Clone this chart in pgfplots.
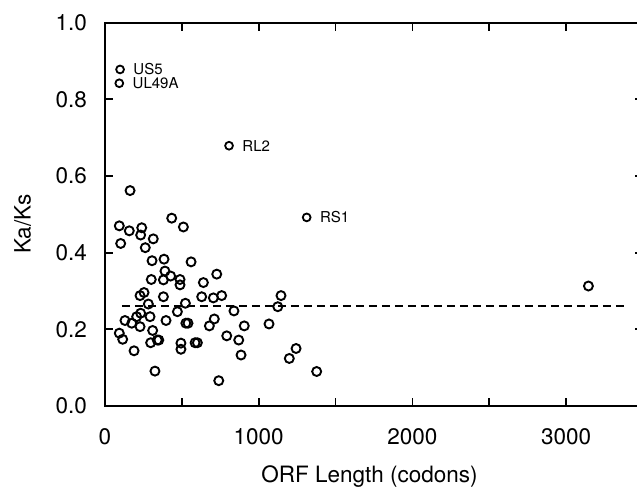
\documentclass[border=0pt]{standalone}
\usepackage{fontspec}
\setmainfont{TeX Gyre Heros}
\usepackage{pgfplots}
\pgfplotsset{compat=1.18}

\begin{document}
\begin{tikzpicture}
\begin{axis}[
  scale only axis, width=538bp, height=383.3bp,
  xmin=0, xmax=3500, ymin=0, ymax=1,
  font=\fontsize{22.5bp}{27bp}\selectfont,
  axis line style={line width=1.7bp},
  every tick/.style={line width=1.7bp, black},
  major tick length=8bp, minor tick length=8bp,
  tick align=inside,
  xtick={0,1000,2000,3000}, minor xtick={500,1500,2500},
  ytick={0,0.2,0.4,0.6,0.8,1.0},
  /pgf/number format/assume math mode=true,
  /pgf/number format/1000 sep={},
  yticklabel style={/pgf/number format/fixed, /pgf/number format/fixed zerofill, /pgf/number format/precision=1, inner sep=0pt, anchor=east, xshift=-18bp},
  xticklabel style={inner sep=0pt, anchor=base, yshift=-39bp},
  xlabel={ORF Length (codons)}, ylabel={Ka/Ks},
  every axis x label/.style={at={(axis description cs:0.4916,-0.2001)}, anchor=base},
  every axis y label/.style={at={(axis description cs:-0.153,0.475)}, rotate=90, anchor=center},
  clip=false,
]
% mean line
\addplot[black, line width=1.8bp, dash pattern=on 8bp off 5bp] coordinates {(110,0.26) (3390,0.26)};
% ORFs
\addplot[only marks, mark=o, mark size=4.5bp, mark options={line width=1.9bp, black}] table {
x y
163 0.562
93 0.470
158 0.457
239 0.465
232 0.446
102 0.424
314 0.436
262 0.413
434 0.490
510 0.467
306 0.379
384 0.383
390 0.352
560 0.376
301 0.330
380 0.329
427 0.339
488 0.330
488 0.316
640 0.322
727 0.344
228 0.288
254 0.296
380 0.285
629 0.285
705 0.282
759 0.288
282 0.266
523 0.268
471 0.246
839 0.248
1124 0.259
1145 0.288
130 0.223
174 0.216
206 0.233
232 0.242
228 0.207
293 0.233
93 0.190
115 0.174
310 0.197
397 0.223
526 0.216
540 0.216
679 0.209
711 0.227
792 0.183
870 0.172
906 0.209
1067 0.214
297 0.165
340 0.172
350 0.172
494 0.164
494 0.148
586 0.165
601 0.165
189 0.144
885 0.133
1199 0.124
1243 0.150
325 0.091
740 0.066
1377 0.090
3145 0.313
};
% labelled ORFs
\addplot[only marks, mark=o, mark size=3.9bp, mark options={line width=1.8bp, black},
  nodes near coords, point meta=explicit symbolic,
  every node near coord/.style={anchor=west, inner sep=0pt, xshift=12.5bp, font=\fontsize{15bp}{18bp}\selectfont}]
  table[meta=label] {
x y label
98 0.878 US5
93 0.842 UL49A
807 0.679 RL2
1312 0.492 RS1
};
\coordinate (bl) at (axis cs:-683.1,-0.2113);
\coordinate (tr) at (axis cs:3461,1.0592);
\end{axis}
\pgfresetboundingbox
\useasboundingbox (bl) rectangle (tr);
\end{tikzpicture}
\end{document}
